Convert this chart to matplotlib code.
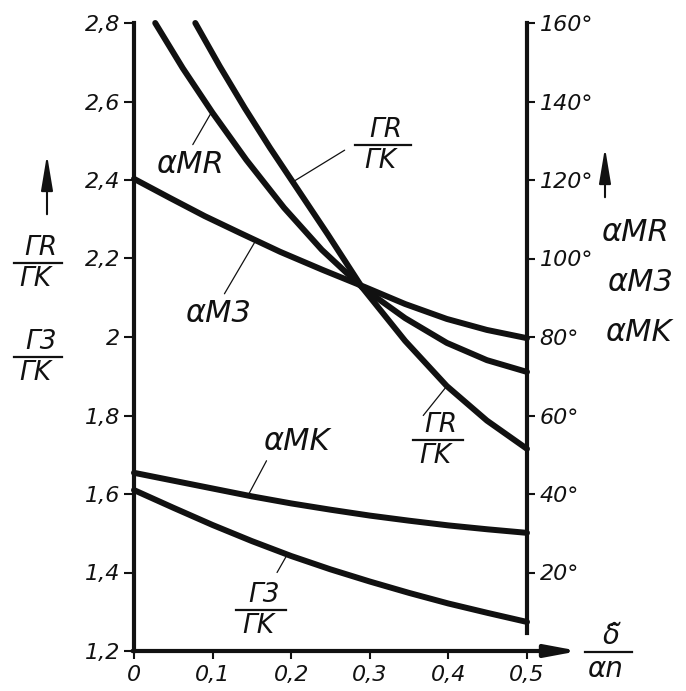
import numpy as np
import matplotlib
matplotlib.use("Agg")
import matplotlib.pyplot as plt
from matplotlib.lines import Line2D

# values (x = delta / alpha_n)
x_gr = [0.078, 0.109, 0.141, 0.173, 0.202, 0.247, 0.290, 0.345, 0.398, 0.449, 0.500]
gr_gk = [2.800, 2.690, 2.583, 2.482, 2.395, 2.260, 2.127, 1.990, 1.875, 1.787, 1.715]

x_mr = [0.027, 0.062, 0.100, 0.143, 0.191, 0.239, 0.290, 0.345, 0.398, 0.449, 0.500]
alpha_mr = [160.0, 148.5, 137.1, 125.1, 112.9, 102.2, 92.7, 84.8, 78.5, 74.1, 71.1]

x_m3 = [0.0, 0.046, 0.090, 0.135, 0.186, 0.240, 0.294, 0.345, 0.398, 0.449, 0.500]
alpha_m3 = [120.3, 115.4, 110.8, 106.5, 101.7, 97.1, 92.7, 88.4, 84.6, 81.8, 79.7]

x_low = [0.0, 0.05, 0.10, 0.15, 0.20, 0.25, 0.30, 0.35, 0.40, 0.45, 0.50]
alpha_mk = [45.4, 43.4, 41.4, 39.4, 37.6, 36.0, 34.5, 33.2, 32.0, 31.0, 30.1]
g3_gk = [1.610, 1.565, 1.521, 1.480, 1.442, 1.408, 1.377, 1.348, 1.321, 1.297, 1.274]

left_ticks = [1.2, 1.4, 1.6, 1.8, 2.0, 2.2, 2.4, 2.6, 2.8]
left_labels = ["1,2", "1,4", "1,6", "1,8", "2", "2,2", "2,4", "2,6", "2,8"]
right_ticks = [20, 40, 60, 80, 100, 120, 140, 160]
x_ticks = [0.0, 0.1, 0.2, 0.3, 0.4, 0.5]
x_labels = ["0", "0,1", "0,2", "0,3", "0,4", "0,5"]

W, H = 686, 691
ink = "#111111"
plt.rcParams['font.family'] = ['DejaVu Sans']
plt.rcParams['font.style'] = 'italic'

fig = plt.figure(figsize=(W / 100, H / 100), dpi=100)
fig.patch.set_facecolor("white")
ax = fig.add_axes([134 / W, 1 - 651 / H, (527 - 134) / W, (651 - 23) / H])
ax2 = ax.twinx()

ax.set_xlim(0, 0.5)
ax.set_ylim(1.2, 2.8)
ax2.set_ylim(0, 160)

style = dict(color=ink, lw=4.3, solid_capstyle='round', solid_joinstyle='round', clip_on=False)
ax.plot(x_gr, gr_gk, **style)
ax.plot(x_low, g3_gk, **style)
ax2.plot(x_mr, alpha_mr, **style)
ax2.plot(x_m3, alpha_m3, **style)
ax2.plot(x_low, alpha_mk, **style)

# axes
for a in (ax, ax2):
    for s in a.spines.values():
        s.set_visible(False)
ax.spines['left'].set_visible(True)
ax.spines['left'].set_linewidth(3)
ax.spines['left'].set_color(ink)
ax2.spines['right'].set_visible(True)
ax2.spines['right'].set_linewidth(3)
ax2.spines['right'].set_color(ink)
ax2.spines['right'].set_bounds(4.6, 160)

ax.set_yticks(left_ticks, left_labels)
ax.set_xticks(x_ticks, x_labels)
ax2.set_yticks(right_ticks, [f"{v}°" for v in right_ticks])
ax.tick_params(axis='y', length=7, width=1.5, pad=3, labelsize=16, colors=ink)
ax.tick_params(axis='x', length=6, width=1.5, pad=4, labelsize=16, colors=ink)
ax2.tick_params(axis='y', length=6, width=1.5, pad=3, labelsize=16, colors=ink)

# x axis with arrow
ax.annotate('', xy=(0.566, 1.2), xytext=(-0.002, 1.2), annotation_clip=False,
            arrowprops=dict(arrowstyle='-|>,head_length=1.6,head_width=0.3',
                            lw=3, color=ink, mutation_scale=12,
                            shrinkA=0, shrinkB=0))

fs = 22
leader = dict(arrowstyle='-', lw=0.9, color=ink, shrinkA=2, shrinkB=0)


def frac(px, py, top, bottom, width=50, size=19):
    fx, fy = px / W, 1 - py / H
    fig.text(fx + 0.004, fy + 0.003, top, ha='center', va='bottom', fontsize=size, color=ink)
    fig.text(fx - 0.004, fy - 0.004, bottom, ha='center', va='top', fontsize=size, color=ink)
    fig.add_artist(Line2D([(px - width / 2) / W, (px + width / 2) / W], [fy, fy],
                          transform=fig.transFigure, lw=1.6, color=ink))


# curve labels
ax2.annotate('αMR', xy=(0.099, np.interp(0.099, x_mr, alpha_mr)), xytext=(0.071, 124),
             ha='center', va='center', fontsize=fs, color=ink,
             arrowprops=dict(leader, relpos=(0.5, 1.0)))
ax2.annotate('αM3', xy=(0.155, np.interp(0.155, x_m3, alpha_m3)), xytext=(0.107, 86),
             ha='center', va='center', fontsize=fs, color=ink,
             arrowprops=dict(leader, relpos=(0.55, 1.0)))
ax2.annotate('αMK', xy=(0.145, np.interp(0.145, x_low, alpha_mk)), xytext=(0.206, 53.5),
             ha='center', va='center', fontsize=fs, color=ink,
             arrowprops=dict(leader, relpos=(0.1, 0.0)))

frac(383, 145, 'ΓR', 'ΓK', width=55)
ax.annotate('', xy=(0.202, np.interp(0.202, x_gr, gr_gk)), xytext=(0.268, 2.476),
            arrowprops=dict(leader, shrinkA=0))
frac(438, 440, 'ΓR', 'ΓK')
ax.annotate('', xy=(0.398, np.interp(0.398, x_gr, gr_gk)), xytext=(0.368, 1.80),
            arrowprops=dict(leader, shrinkA=0))
frac(261, 610, 'Γ3', 'ΓK')
ax.annotate('', xy=(0.195, np.interp(0.195, x_low, g3_gk)), xytext=(0.182, 1.40),
            arrowprops=dict(leader, shrinkA=0))

# left axis title
fig.add_artist(matplotlib.patches.FancyArrowPatch((47 / W, 1 - 217 / H), (47 / W, 1 - 152 / H),
               transform=fig.transFigure, arrowstyle='-|>,head_length=1.8,head_width=0.3',
               mutation_scale=12, lw=1.5, color=ink))
frac(38, 263, 'ΓR', 'ΓK', width=47)
frac(38, 357, 'Γ3', 'ΓK', width=47)

# right axis title
fig.add_artist(matplotlib.patches.FancyArrowPatch((605 / W, 1 - 200 / H), (605 / W, 1 - 145 / H),
               transform=fig.transFigure, arrowstyle='-|>,head_length=1.8,head_width=0.3',
               mutation_scale=12, lw=1.5, color=ink))
fig.text(635 / W, 1 - 232 / H, 'αMR', ha='center', va='center', fontsize=fs, color=ink)
fig.text(640 / W, 1 - 282 / H, 'αM3', ha='center', va='center', fontsize=fs, color=ink)
fig.text(638 / W, 1 - 332 / H, 'αMK', ha='center', va='center', fontsize=fs, color=ink)

# x axis title
frac(608, 652, 'δ͂', 'αn', width=47, size=20)

fig.savefig("out.png", dpi=100, facecolor="white")
